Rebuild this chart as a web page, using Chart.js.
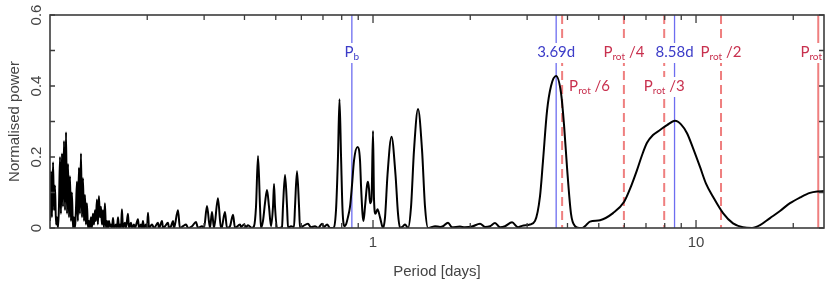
<!DOCTYPE html>
<html>
<head>
<meta charset="utf-8">
<script src="https://cdn.jsdelivr.net/npm/chart.js@4.4.1/dist/chart.umd.min.js"></script>
<style>
  html, body { margin: 0; padding: 0; background: #fff; }
</style>
</head>
<body>
<canvas id="periodogram" width="830" height="286"></canvas>
<script>
// periodogram (period in days, normalised power)
const periods = [
  0.1000, 0.1007, 0.1014, 0.1022, 0.1029, 0.1036, 0.1044, 0.1051, 0.1059, 0.1066,
  0.1074, 0.1081, 0.1089, 0.1097, 0.1105, 0.1113, 0.1121, 0.1129, 0.1137, 0.1145,
  0.1153, 0.1161, 0.1169, 0.1178, 0.1186, 0.1195, 0.1203, 0.1212, 0.1220, 0.1229,
  0.1238, 0.1247, 0.1256, 0.1265, 0.1274, 0.1283, 0.1292, 0.1301, 0.1311, 0.1320,
  0.1329, 0.1339, 0.1348, 0.1358, 0.1368, 0.1378, 0.1387, 0.1397, 0.1407, 0.1417,
  0.1428, 0.1438, 0.1448, 0.1458, 0.1469, 0.1479, 0.1490,
  0.1501, 0.1512, 0.1523, 0.1534, 0.1545, 0.1556, 0.1567, 0.1578, 0.1601, 0.1612,
  0.1624, 0.1635, 0.1647, 0.1659, 0.1670, 0.1682, 0.1706, 0.1719, 0.1743, 0.1756,
  0.1781, 0.1794, 0.1820, 0.1833, 0.1872, 0.1886, 0.1913, 0.1927, 0.1940, 0.1954,
  0.1982, 0.1997, 0.2011, 0.2025, 0.2069, 0.2099, 0.2159, 0.2175, 0.2222, 0.2238,
  0.2270, 0.2319, 0.2336, 0.2369, 0.2403, 0.2420, 0.2490, 0.2525, 0.2580, 0.2637,
  0.2675, 0.2752, 0.2831, 0.2872, 0.2955, 0.2998, 0.3062, 0.3128, 0.3173, 0.3219,
  0.3311, 0.3382, 0.3406, 0.3481, 0.3531, 0.3607, 0.3686, 0.3739, 0.3875, 0.3903,
  0.3987, 0.4044, 0.4102, 0.4221, 0.4282, 0.4343, 0.4405, 0.4469, 0.4500, 0.4565,
  0.4630, 0.4697, 0.4764, 0.4833, 0.4902, 0.4938, 0.4973, 0.5045, 0.5117, 0.5228,
  0.5264, 0.5341, 0.5418, 0.5457, 0.5576, 0.5694, 0.5735, 0.5817, 0.5902, 0.5943,
  0.6071, 0.6290, 0.6427, 0.6612, 0.6757, 0.6955, 0.7055, 0.7208, 0.7365, 0.7519,
  0.7681, 0.7790, 0.7874, 0.7963, 0.8048, 0.8163, 0.8249, 0.8361, 0.8488, 0.8608,
  0.8733, 0.8953, 0.9116, 0.9180, 0.9279, 0.9346, 0.9446, 0.9581, 0.9650, 0.9719,
  0.9789, 0.9893, 1.0000, 1.0072, 1.0180, 1.0326, 1.0512, 1.0740, 1.0894, 1.1089,
  1.1410, 1.1739, 1.1952, 1.2123, 1.2387, 1.2565, 1.2839, 1.3114, 1.3396, 1.3783,
  1.4182, 1.4487, 1.4802, 1.5232, 1.5560, 1.6126, 1.6472, 1.7070, 1.7562, 1.8585,
  1.9256, 2.0239, 2.1443, 2.2222, 2.3026, 2.3862, 2.4734, 2.5630, 2.6938, 2.8117,
  2.8930, 3.0625, 3.1737, 3.2888, 3.3599, 3.4572, 3.5572, 3.6867, 3.8204, 3.9031,
  3.9874, 4.1020, 4.2207, 4.3428, 4.4367, 4.5651, 4.6967, 5.0442, 5.5343, 5.9842,
  6.2461, 6.5658, 6.8039, 7.0507, 7.3590, 7.7355, 8.1313, 8.6100, 8.9862, 9.3792,
  9.7884, 10.289, 10.738, 11.288, 12.124, 13.018, 13.979, 14.907, 15.782, 16.946,
  18.197, 19.539, 20.984, 22.534, 23.855, 24.906
];
const power = [
  0.02, 0.16, 0.03, 0.185, 0.05, 0.12, 0.01, 0.03, 0.0, 0.06,
  0.20, 0.04, 0.21, 0.06, 0.245, 0.05, 0.27, 0.04, 0.18, 0.03,
  0.146, 0.02, 0.10, 0.0, 0.03, 0.0, 0.05, 0.13, 0.02, 0.17,
  0.04, 0.21, 0.03, 0.14, 0.02, 0.093, 0.01, 0.07, 0.0, 0.02,
  0.0, 0.03, 0.0, 0.04, 0.01, 0.05, 0.02, 0.08, 0.01, 0.09,
  0.03, 0.06, 0.01, 0.05, 0.0, 0.07, 0.0,
  0.02, 0.0, 0.02, 0.005, 0.01, 0.0, 0.028, 0.0, 0.01, 0.0,
  0.03, 0.0, 0.01, 0.0, 0.053, 0.0, 0.015, 0.0, 0.04, 0.0,
  0.015, 0.0, 0.01, 0.0, 0.025, 0.0, 0.01, 0.0, 0.02, 0.0,
  0.01, 0.0, 0.043, 0.0, 0.01, 0.0, 0.015, 0.0, 0.02, 0.0,
  0.005, 0.015, 0.0, 0.005, 0.02, 0.0, 0.05, 0.0, 0.005, 0.01,
  0.0, 0.005, 0.017, 0.0, 0.005, 0.0, 0.062, 0.0, 0.045, 0.0,
  0.084, 0.0, 0.003, 0.045, 0.0, 0.005, 0.037, 0.0, 0.01, 0.003,
  0.01, 0.003, 0.008, 0.0, 0.005, 0.06, 0.203, 0.06, 0.0, 0.02,
  0.07, 0.107, 0.06, 0.005, 0.06, 0.124, 0.06, 0.0, 0.0, 0.003,
  0.06, 0.149, 0.06, 0.0, 0.005, 0.003, 0.06, 0.16, 0.06, 0.0,
  0.005, 0.012, 0.002, 0.005, 0.0, 0.012, 0.003, 0.01, 0.0, 0.0,
  0.05, 0.2, 0.363, 0.2, 0.05, 0.005, 0.01, 0.03, 0.06, 0.12,
  0.19, 0.228, 0.19, 0.12, 0.04, 0.02, 0.06, 0.12, 0.13, 0.11,
  0.07, 0.08, 0.273, 0.08, 0.04, 0.053, 0.03, 0.0, 0.03, 0.15,
  0.257, 0.15, 0.04, 0.0, 0.005, 0.01, 0.0, 0.06, 0.22, 0.335,
  0.22, 0.06, 0.0, 0.003, 0.005, 0.003, 0.005, 0.015, 0.002, 0.004,
  0.002, 0.004, 0.012, 0.003, 0.005, 0.014, 0.002, 0.005, 0.016, 0.002,
  0.006, 0.01, 0.02, 0.09, 0.19, 0.33, 0.40, 0.428, 0.38, 0.29,
  0.17, 0.04, 0.005, 0.0, 0.0, 0.008, 0.018, 0.022, 0.042, 0.073,
  0.11, 0.163, 0.205, 0.24, 0.262, 0.276, 0.29, 0.302, 0.292, 0.267,
  0.225, 0.172, 0.125, 0.088, 0.042, 0.013, 0.002, 0.0, 0.008, 0.028,
  0.048, 0.07, 0.086, 0.099, 0.103, 0.104
];

// axis ticks
const xTicks = [0.2, 0.3, 0.4, 0.5, 0.6, 0.7, 0.8, 0.9, 1, 2, 3, 4, 5, 6, 7, 8, 9, 10, 20];
const xTickLabels = [1, 10];
const yTicks = [0, 0.1, 0.2, 0.3, 0.4, 0.5, 0.6];
const yTickLabels = [0, 0.2, 0.4, 0.6];

// planet periods (blue) and stellar rotation harmonics (red)
const planetPeriods = [0.86, 3.69, 8.58];
const planetNames = [['P', 'b', ''], ['3.69d', '', ''], ['8.58d', '', '']];
const protPeriods = [23.9, 11.95, 7.97, 5.98, 3.85];
const protNames = [['P', 'rot', ''], ['P', 'rot', ' /2'], ['P', 'rot', ' /3'], ['P', 'rot', ' /4'], ['P', 'rot', ' /6']];

const labelFont = '15px Lato';
const subFont = '10px Lato';

function labelWidth(ctx, parts) {
  ctx.font = labelFont;
  let w = ctx.measureText(parts[0]).width + ctx.measureText(parts[2]).width;
  ctx.font = subFont;
  return w + ctx.measureText(parts[1]).width;
}

function drawLabel(ctx, parts, x, base, align, color) {
  const w = labelWidth(ctx, parts);
  let left = x - w / 2;
  if (align === 'left') left = x;
  if (align === 'right') left = x - w;
  ctx.fillStyle = '#fff';
  ctx.fillRect(left - 2, base - 14, w + 4, 20);
  ctx.fillStyle = color;
  ctx.textAlign = 'left';
  ctx.textBaseline = 'alphabetic';
  ctx.font = labelFont;
  ctx.fillText(parts[0], left, base);
  let cx = left + ctx.measureText(parts[0]).width;
  ctx.font = subFont;
  ctx.fillText(parts[1], cx, base + 3);
  cx += ctx.measureText(parts[1]).width;
  ctx.font = labelFont;
  ctx.fillText(parts[2], cx, base);
}

const markers = {
  id: 'markers',
  beforeDatasetsDraw(chart) {
    const {ctx, chartArea: a, scales: {x}} = chart;
    ctx.save();
    ctx.beginPath();
    ctx.rect(a.left, a.top, a.width, a.height);
    ctx.clip();
    protPeriods.forEach((p, i) => {
      const px = x.getPixelForValue(p);
      ctx.strokeStyle = '#ef7f7f';
      ctx.lineWidth = 2;
      ctx.setLineDash(i === 0 ? [] : [9, 5]);
      ctx.beginPath();
      ctx.moveTo(px, a.top);
      ctx.lineTo(px, a.bottom);
      ctx.stroke();
    });
    ctx.setLineDash([]);
    planetPeriods.forEach(p => {
      const px = x.getPixelForValue(p);
      ctx.strokeStyle = '#6d6df0';
      ctx.lineWidth = 1.3;
      ctx.beginPath();
      ctx.moveTo(px, a.top);
      ctx.lineTo(px, a.bottom);
      ctx.stroke();
    });

    // label rows and alignment
    const row = [a.top + 42, a.top + 76];
    const protLayout = [[0, 'right'], [0, 'center'], [1, 'center'], [0, 'center'], [1, 'left']];
    planetPeriods.forEach((p, i) => {
      drawLabel(ctx, planetNames[i], x.getPixelForValue(p), row[0], 'center', '#3c3cc8');
    });
    protPeriods.forEach((p, i) => {
      const [r, align] = protLayout[i];
      let px = x.getPixelForValue(p);
      if (align === 'right') px = a.right - 2;
      if (align === 'left') px += 7;
      drawLabel(ctx, protNames[i], px, row[r], align, '#c8304e');
    });
    ctx.restore();
  },
  afterDraw(chart) {
    const {ctx, chartArea: a, scales: {x, y}} = chart;
    ctx.save();
    ctx.strokeStyle = '#3c3c3c';
    ctx.lineWidth = 1.6;
    ctx.strokeRect(a.left, a.top, a.width, a.height);
    ctx.lineWidth = 1.3;
    ctx.beginPath();
    xTicks.forEach(v => {
      const px = x.getPixelForValue(v);
      const len = xTickLabels.includes(v) ? 8 : 5;
      ctx.moveTo(px, a.bottom);
      ctx.lineTo(px, a.bottom - len);
      ctx.moveTo(px, a.top);
      ctx.lineTo(px, a.top + len);
    });
    yTicks.forEach(v => {
      const py = y.getPixelForValue(v);
      ctx.moveTo(a.left, py);
      ctx.lineTo(a.left + 5, py);
      ctx.moveTo(a.right, py);
      ctx.lineTo(a.right - 5, py);
    });
    ctx.stroke();
    ctx.restore();
  }
};

const axisFont = {family: 'Liberation Sans', size: 15};

new Chart(document.getElementById('periodogram'), {
  type: 'line',
  data: {
    datasets: [{
      data: periods.map((p, i) => ({x: p, y: power[i]})),
      borderColor: '#000',
      borderWidth: 2,
      pointRadius: 0,
      cubicInterpolationMode: 'monotone',
      fill: false
    }]
  },
  options: {
    responsive: false,
    animation: false,
    devicePixelRatio: 1,
    layout: {padding: {top: 15, right: 6, left: 0, bottom: 0}},
    plugins: {legend: {display: false}, tooltip: {enabled: false}},
    scales: {
      x: {
        type: 'logarithmic',
        min: 0.1,
        max: 24.9,
        afterFit: s => { s.height = 58; },
        afterBuildTicks: s => { s.ticks = xTicks.map(v => ({value: v})); },
        grid: {display: false, drawTicks: false},
        border: {display: false},
        ticks: {
          autoSkip: false, maxRotation: 0, padding: 6, color: '#444', font: axisFont,
          callback: v => xTickLabels.includes(v) ? String(v) : ''
        },
        title: {display: true, text: 'Period [days]', color: '#444', font: axisFont, padding: {top: 0, bottom: 5}}
      },
      y: {
        min: 0,
        max: 0.6,
        afterFit: s => { s.width = 50; },
        afterBuildTicks: s => { s.ticks = yTicks.map(v => ({value: v})); },
        grid: {display: false, drawTicks: false},
        border: {display: false},
        ticks: {
          minRotation: 90, maxRotation: 90, crossAlign: 'center', padding: 3, color: '#444', font: axisFont,
          callback: v => yTickLabels.includes(v) ? String(v) : ''
        },
        title: {display: true, text: 'Normalised power', color: '#444', font: axisFont, padding: {top: 6, bottom: 0}}
      }
    }
  },
  plugins: [markers]
});
</script>
</body>
</html>
